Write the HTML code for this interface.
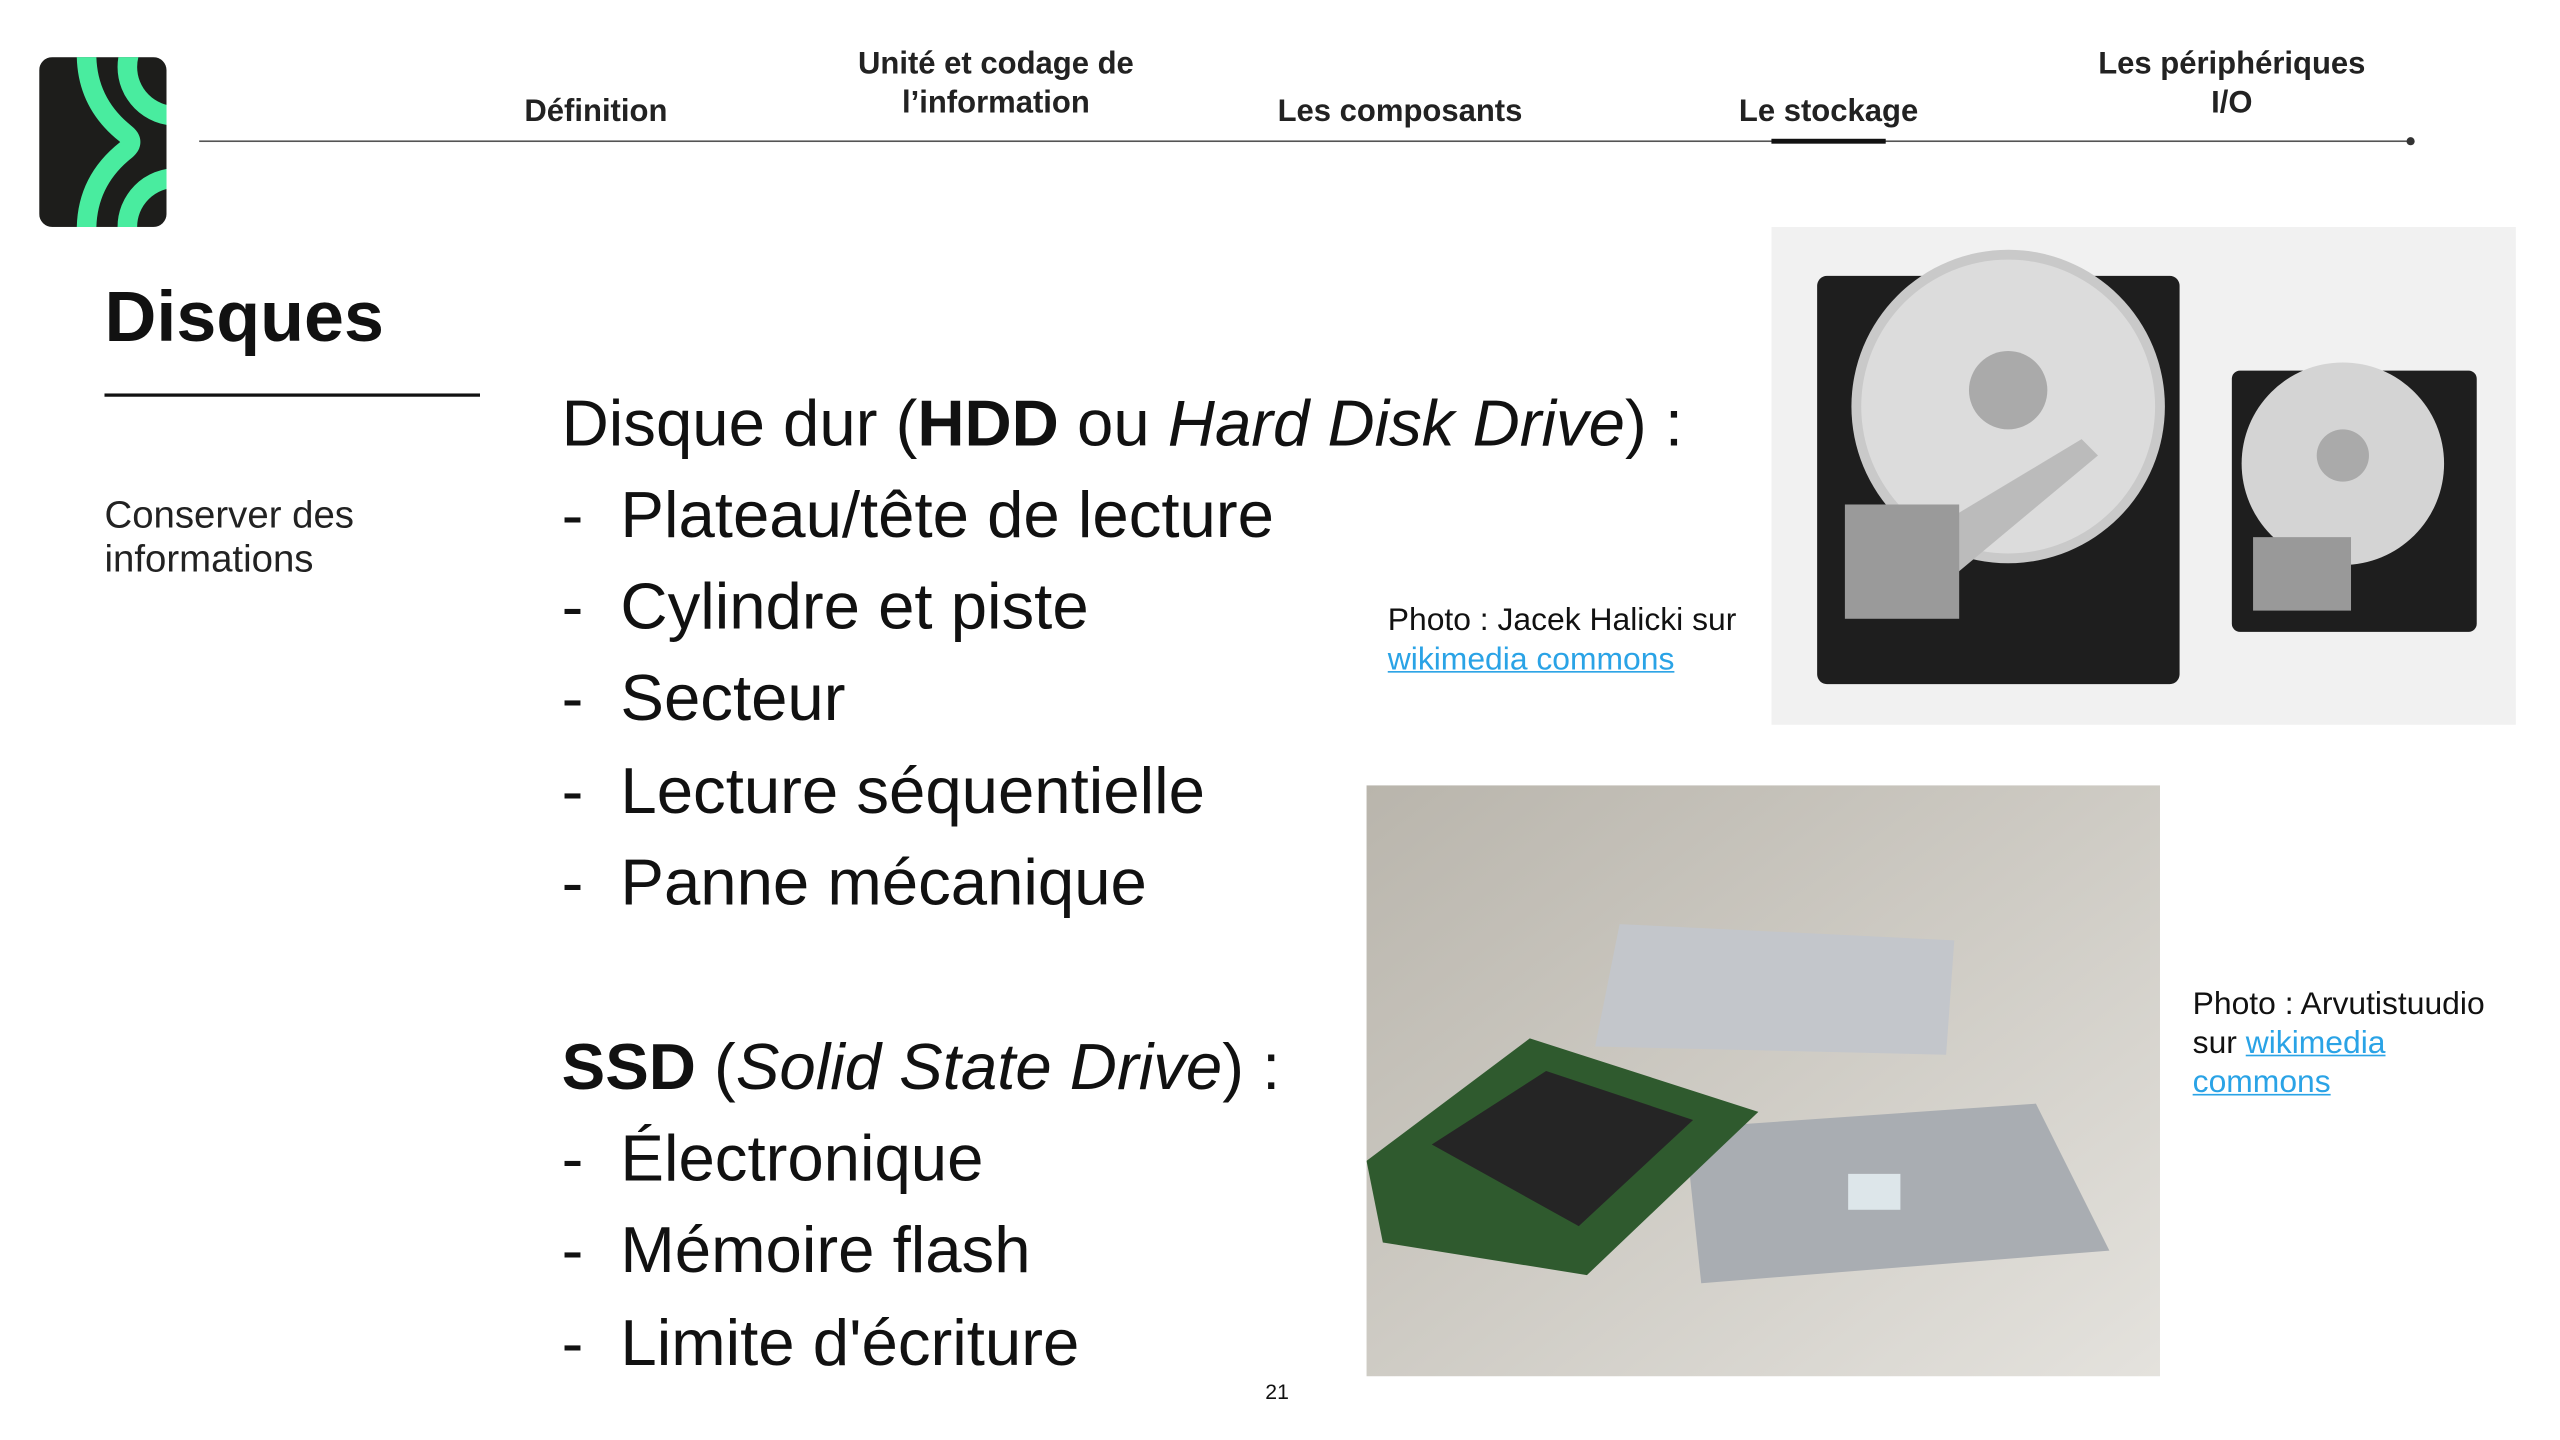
<!DOCTYPE html>
<html><head><meta charset="utf-8">
<style>
html,body{margin:0;padding:0;background:#fff;overflow:hidden}
#page{position:absolute;left:0;top:0;width:1568px;height:882px;transform:scale(1.63265);transform-origin:0 0;font-family:"Liberation Sans","DejaVu Sans",sans-serif;color:#111}
.abs{position:absolute}
.nav{position:absolute;font-size:19px;font-weight:bold;color:#222;text-align:center;line-height:24px}
.big{position:absolute;left:344px;font-size:40px;color:#111;white-space:nowrap}
.big .d{display:inline-block;width:36px}
a{color:#2aa3e6}
</style></head><body>
<div id="page">
<svg class="abs" style="left:24px;top:35px" width="78" height="104" viewBox="0 0 78 104">
<defs><clipPath id="c"><rect width="78" height="104" rx="8"/></clipPath></defs>
<g clip-path="url(#c)"><rect width="78" height="104" fill="#1d1d1b"/>
<path d="M29 -2 Q29 28 53 47 Q59 52 53 57 Q29 76 29 106" stroke="#49ec9f" stroke-width="12" fill="none"/>
<circle cx="84" cy="6" r="30" stroke="#49ec9f" stroke-width="12" fill="none"/>
<circle cx="84" cy="104" r="30" stroke="#49ec9f" stroke-width="12" fill="none"/></g></svg>
<div class="abs" style="left:122px;top:86px;width:1356px;height:1px;background:#555"></div>
<div class="abs" style="left:1474px;top:84px;width:5px;height:5px;border-radius:50%;background:#333"></div>
<div class="nav" style="left:290px;top:57px;width:150px">Définition</div>
<div class="nav" style="left:500px;top:28px;width:220px">Unité et codage de l’information</div>
<div class="nav" style="left:750px;top:57px;width:215px">Les composants</div>
<div class="nav" style="left:1040px;top:57px;width:160px">Le stockage</div>
<div class="abs" style="left:1085px;top:85px;width:70px;height:3px;background:#111"></div>
<div class="nav" style="left:1277px;top:28px;width:180px">Les périphériques I/O</div>
<div class="abs" style="left:64px;top:170px;font-size:44px;font-weight:bold">Disques</div>
<div class="abs" style="left:64px;top:241px;width:230px;height:2px;background:#111"></div>
<div class="abs" style="left:64px;top:302px;font-size:23.5px;line-height:27px;color:#222">Conserver des<br>informations</div>
<div class="big" style="top:238px">Disque dur (<b>HDD</b> ou <i>Hard Disk Drive</i>) :</div>
<div class="big" style="top:294px"><span class="d">-</span>Plateau/tête de lecture</div>
<div class="big" style="top:350px"><span class="d">-</span>Cylindre et piste</div>
<div class="big" style="top:406px"><span class="d">-</span>Secteur</div>
<div class="big" style="top:463px"><span class="d">-</span>Lecture séquentielle</div>
<div class="big" style="top:519px"><span class="d">-</span>Panne mécanique</div>
<div class="big" style="top:632px"><b>SSD</b> (<i>Solid State Drive</i>) :</div>
<div class="big" style="top:688px"><span class="d">-</span>Électronique</div>
<div class="big" style="top:744px"><span class="d">-</span>Mémoire flash</div>
<div class="big" style="top:801px"><span class="d">-</span>Limite d'écriture</div>
<div class="abs" style="left:775px;top:845px;font-size:13px">21</div>
<div class="abs" style="left:850px;top:368px;font-size:19.5px;line-height:24px">Photo : Jacek Halicki sur<br><a href="#">wikimedia commons</a></div>
<div class="abs" style="left:1343px;top:603px;font-size:19.5px;line-height:24px">Photo : Arvutistuudio<br>sur <a href="#">wikimedia</a><br><a href="#">commons</a></div>
<svg class="abs" style="left:1085px;top:139px" width="456" height="305">
<rect width="456" height="305" fill="#f1f1f1"/>
<rect x="28" y="30" width="222" height="250" rx="6" fill="#1e1e1e"/>
<circle cx="145" cy="110" r="96" fill="#c9c9c9"/><circle cx="145" cy="110" r="90" fill="#dcdcdc"/><circle cx="145" cy="100" r="24" fill="#aaa"/>
<path d="M90 190 L190 130 L200 140 L110 215 Z" fill="#bbb"/><rect x="45" y="170" width="70" height="70" fill="#9a9a9a"/>
<rect x="282" y="88" width="150" height="160" rx="5" fill="#1e1e1e"/>
<circle cx="350" cy="145" r="62" fill="#d4d4d4"/><circle cx="350" cy="140" r="16" fill="#aaa"/>
<rect x="295" y="190" width="60" height="45" fill="#999"/>
</svg>
<svg class="abs" style="left:837px;top:481px" width="486" height="362">
<defs><linearGradient id="g" x1="0" y1="0" x2="1" y2="1"><stop offset="0" stop-color="#b9b5ac"/><stop offset="1" stop-color="#e4e2dd"/></linearGradient></defs>
<rect width="486" height="362" fill="url(#g)"/>
<path d="M155 85 L360 95 L355 165 L140 160 Z" fill="#c3c6cb"/>
<path d="M195 210 L410 195 L455 285 L205 305 Z" fill="#a9adb2"/>
<rect x="295" y="238" width="32" height="22" fill="#dde6ea"/>
<path d="M0 230 L100 155 L240 200 L135 300 L10 280 Z" fill="#2f5a2e"/>
<path d="M40 220 L110 175 L200 205 L130 270 Z" fill="#252525"/>
</svg>
</div>
</body></html>
